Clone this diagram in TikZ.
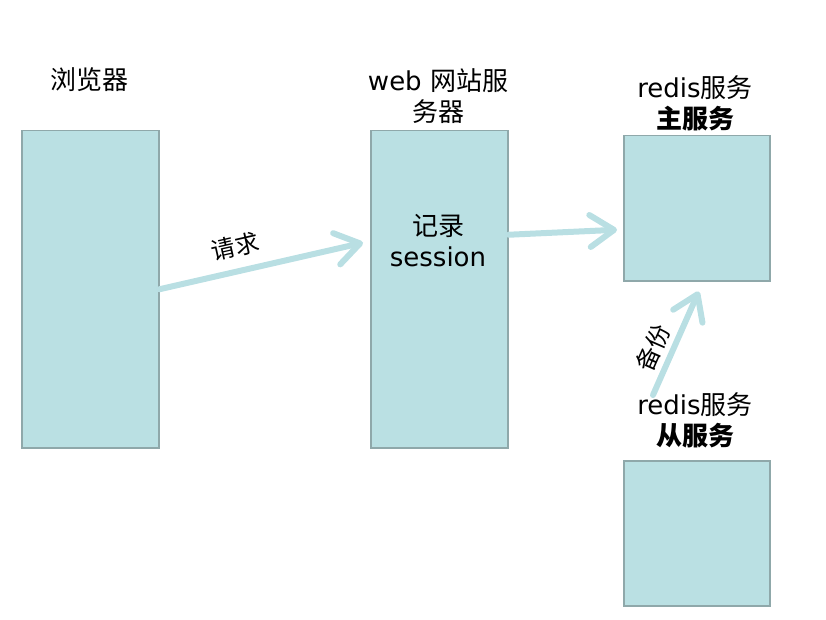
\documentclass[tikz,border=0pt]{standalone}
\usepackage{fontspec}
\setmainfont{DejaVu Sans}
\newfontfamily\cjk{Noto Sans CJK SC}
\newcommand{\zh}[1]{{\cjk #1}}
\usetikzlibrary{arrows.meta,positioning}
\definecolor{boxfill}{RGB}{186,224,227}
\definecolor{boxline}{RGB}{143,168,170}
\definecolor{linkcol}{RGB}{185,223,227}

\begin{document}
\begin{tikzpicture}[
    x=1pt, y=-1pt,
    box/.style={draw=boxline, fill=boxfill, line width=1.5pt, inner sep=0pt, anchor=north west},
    txt/.style={font=\fontsize{26}{31}\selectfont, align=center, inner sep=0pt},
    link/.style={-{Straight Barb[length=24pt,width=32pt,round]}, line width=6pt, draw=linkcol, line cap=round},
    tag/.style={font=\fontsize{24}{28}\selectfont, inner sep=0pt}
]
\useasboundingbox (0,0) rectangle (826,620);

\node[box, minimum width=137pt, minimum height=317pt] (browser) at (21,130) {};
\node[box, minimum width=137pt, minimum height=317pt] (web) at (370,130) {};
\node[box, minimum width=146pt, minimum height=145pt] (master) at (623,135) {};
\node[box, minimum width=146pt, minimum height=145pt] (slave) at (623,460) {};

\node[txt] (browserlbl) at (89,80) {\zh{浏览器}};
\node[txt] (weblbl) at (438,96) {web \zh{网站服}\\\zh{务器}};
\node[txt] (masterlbl) at (695,103) {redis\zh{服务}\\\textbf{\zh{主服务}}};
\node[txt] (slavelbl) at (695,420) {redis\zh{服务}\\\textbf{\zh{从服务}}};
\node[txt] (session) at (438,241) {\zh{记录}\\session};

\coordinate (bak) at (653,395);

\draw[link] (browser.east) -- node[tag, above=11pt, sloped, pos=0.4]{\zh{请求}} ([xshift=-7pt,yshift=46.5pt]web.west);
\draw[link] ([yshift=54.5pt]web.east) -- ([xshift=-6pt,yshift=-21.5pt]master.west);
\draw[link] (bak) -- node[tag, above=5pt, sloped, pos=0.38]{\zh{备份}} ([xshift=2pt,yshift=-10pt]master.south);

\end{tikzpicture}
\end{document}
